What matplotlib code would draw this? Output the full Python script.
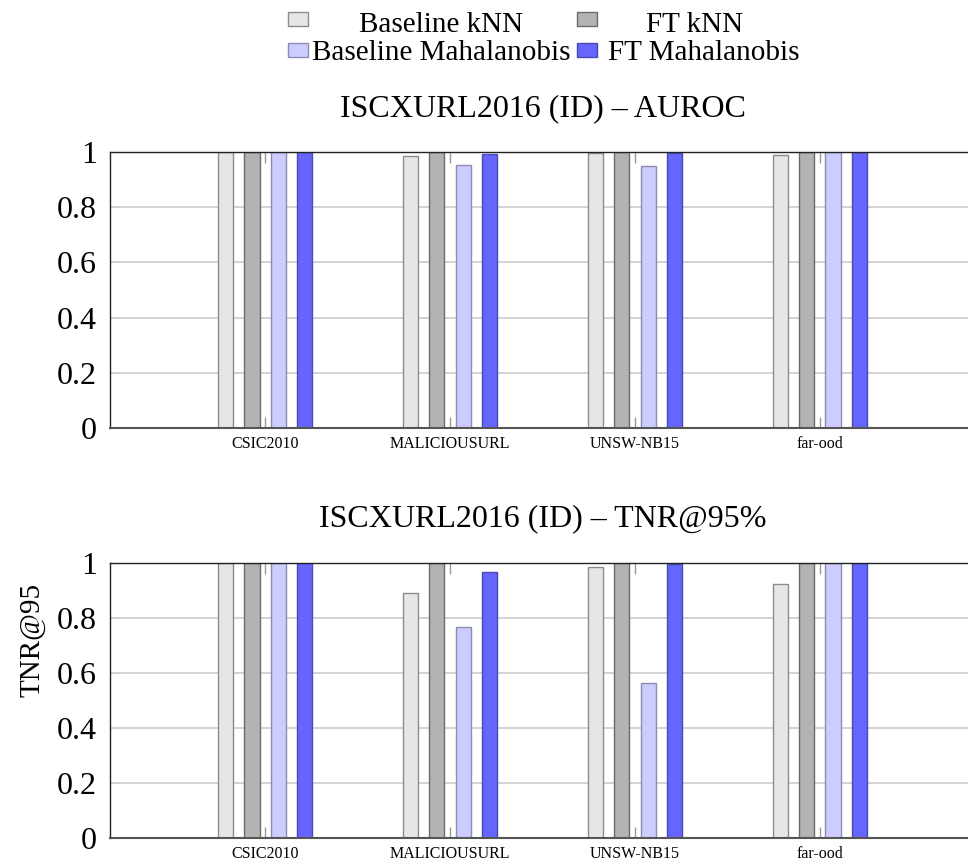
import numpy as np
import matplotlib
matplotlib.use("Agg")
import matplotlib.pyplot as plt
from matplotlib.patches import Rectangle

plt.rcParams['font.family'] = ['Liberation Serif', 'DejaVu Serif']
plt.rcParams['mathtext.fontset'] = 'stix'

### data
datasets = ["CSIC2010", "MALICIOUSURL", "UNSW-NB15", "far-ood"]
methods  = ["Baseline kNN", "FT kNN", "Baseline Mahalanobis", "FT Mahalanobis"]

auroc_base_knn = [0.999, 0.984, 0.995, 0.988]
auroc_ft_knn   = [1.000, 0.999, 1.000, 1.000]
auroc_base_mah = [0.999, 0.953, 0.950, 1.000]
auroc_ft_mah   = [0.999, 0.994, 0.998, 1.000]

tnr_base_knn = [1.000, 0.889, 0.985, 0.921]
tnr_ft_knn   = [1.000, 1.000, 1.000, 1.000]
tnr_base_mah = [1.000, 0.765, 0.564, 1.000]
tnr_ft_mah   = [1.000, 0.965, 0.994, 1.000]

yticks = [0, 0.2, 0.4, 0.6, 0.8, 1]
yticklabels = ["0", "0.2", "0.4", "0.6", "0.8", "1"]

fills = ['#e6e6e6', '#b3b3b3', '#ccccff', '#6666ff']
edges = ['#8c8c8c', '#6b6b6b', '#8c8cb3', '#4a4ab3']

W, H = 968, 866
fig = plt.figure(figsize=(W/100., H/100.), dpi=100)

def fx(px): return px/float(W)
def fy(py): return 1.0 - py/float(H)

ax1 = fig.add_axes([fx(110), fy(428), fx(975-110), fy(152)-fy(428)])
ax2 = fig.add_axes([fx(110), fy(838), fx(975-110), fy(562.5)-fy(838)])

xpos = np.arange(len(datasets))
offs = np.array([-1.5, -0.5, 0.5, 1.5])*0.143
barw = 0.082

def draw_panel(ax, series, title, ylabel=None):
    for i, vals in enumerate(series):
        ax.bar(xpos+offs[i], vals, width=barw, color=fills[i], edgecolor=edges[i],
               linewidth=1.0, zorder=2)
    ax.set_xlim(-0.84, 3.84)
    ax.set_ylim(0, 1)
    ax.set_yticks(yticks, yticklabels)
    ax.set_xticks(xpos, datasets)
    ax.grid(axis='y', color='#d0d0d0', lw=1.3, zorder=0)
    ax.set_axisbelow(True)
    ax.tick_params(axis='y', direction='in', left=True, right=True, length=5,
                   labelsize=23, pad=9.5, color='#d0d0d0')
    ax.tick_params(axis='x', direction='in', bottom=True, top=True, length=8,
                   labelsize=11.5, pad=5.5, color='#999999', width=1.0)
    for s in ['left', 'top', 'right']:
        ax.spines[s].set_color('#222222')
        ax.spines[s].set_linewidth(1.0)
    ax.spines['bottom'].set_color('#555555')
    ax.spines['bottom'].set_linewidth(1.5)
    ax.set_title(title, fontsize=23, pad=26)
    if ylabel:
        ax.set_ylabel(ylabel, fontsize=21)
        ax.yaxis.set_label_coords(fx(45), fy(640), transform=fig.transFigure)

draw_panel(ax1, [auroc_base_knn, auroc_ft_knn, auroc_base_mah, auroc_ft_mah],
           u"ISCXURL2016 (ID) \u2013 AUROC")
draw_panel(ax2, [tnr_base_knn, tnr_ft_knn, tnr_base_mah, tnr_ft_mah],
           u"ISCXURL2016 (ID) \u2013 TNR@95%", ylabel="TNR@95")

### legend, two rows with text centred in each column
leg_rows = [(18.5, 32, 0), (18.5, 32, 1), (49.5, 60, 2), (49.5, 60, 3)]
patch_x = [288, 577, 288, 577]
text_cx = [441, 695, 441, 704]
for (pc, base, k), px, tx in zip(leg_rows, patch_x, text_cx):
    fig.add_artist(Rectangle((fx(px), fy(pc+7)), fx(20), fy(pc-7)-fy(pc+7),
                             transform=fig.transFigure, facecolor=fills[k],
                             edgecolor=edges[k], lw=1.0))
    fig.text(fx(tx), fy(base), methods[k], ha='center', va='baseline', fontsize=21)

fig.savefig("out.png", dpi=100)
